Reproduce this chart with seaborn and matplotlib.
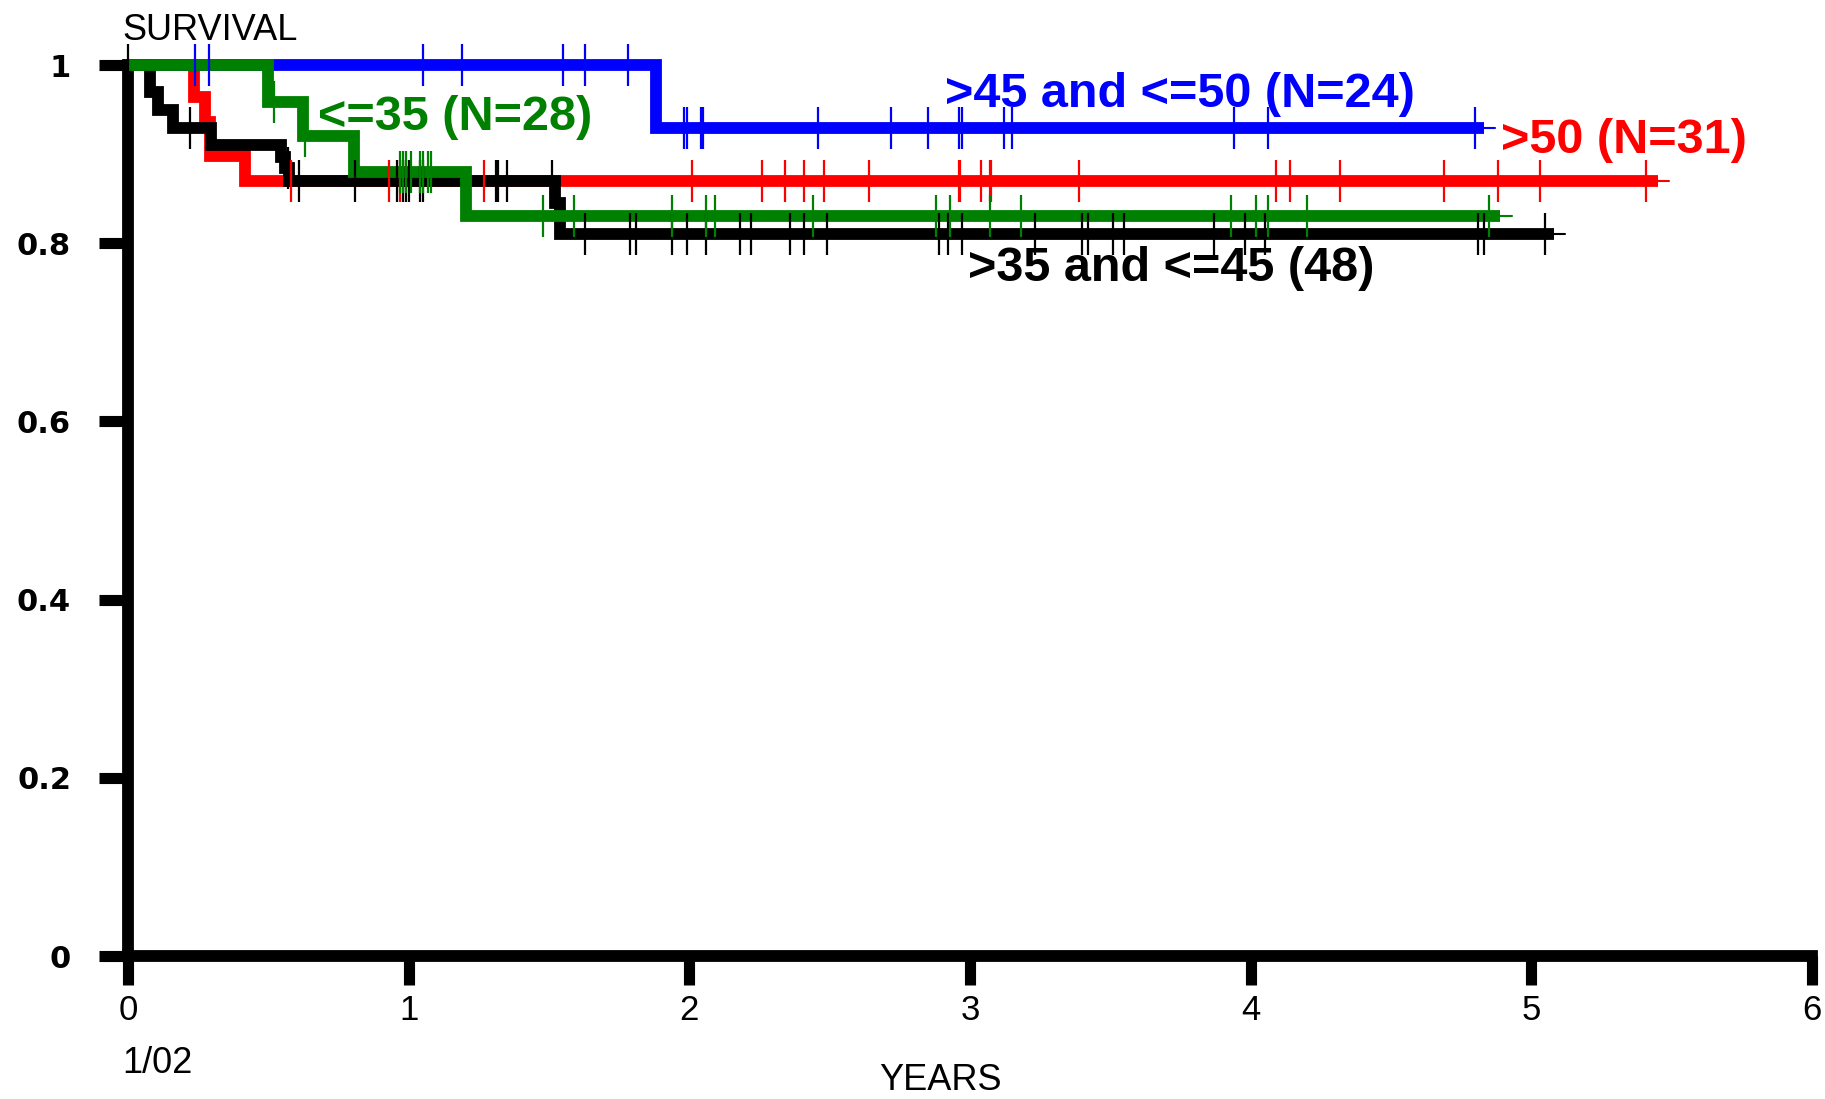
import numpy as np
import pandas as pd
import matplotlib
matplotlib.use("Agg")
import matplotlib.pyplot as plt
import seaborn as sns

# survival steps: drop times (years) and survival after each drop
green_t = [0.0, 0.500, 0.625, 0.805, 1.203]
green_s = [1.0, 0.959, 0.920, 0.880, 0.830]
green_end, green_tail = 4.89, 4.93
green_cens = [0.52, 0.63, 0.97, 0.98, 0.99, 1.01, 1.04, 1.05, 1.07, 1.08, 1.48, 1.59,
              1.94, 2.06, 2.09, 2.44, 2.88, 2.93, 3.07, 3.18, 3.93, 4.02, 4.06, 4.20, 4.85]

black_t = [0.0, 0.078, 0.108, 0.161, 0.296, 0.545, 0.560, 0.575, 1.521, 1.539]
black_s = [1.0, 0.970, 0.949, 0.929, 0.910, 0.897, 0.884, 0.870, 0.845, 0.810]
black_end, black_tail = 5.08, 5.12
black_cens = [0.0, 0.22, 0.57, 0.61, 0.81, 0.96, 0.98, 0.99, 1.00, 1.04, 1.05, 1.31, 1.32,
              1.35, 1.51, 1.63, 1.79, 1.81, 1.94, 1.99, 2.06, 2.18, 2.22, 2.36, 2.41, 2.49,
              2.89, 2.92, 2.97, 3.23, 3.40, 3.42, 3.51, 3.55, 3.87, 3.98, 4.05, 4.81, 4.83, 5.05]

blue_t = [0.0, 1.883]
blue_s = [1.0, 0.929]
blue_end, blue_tail = 4.83, 4.87
blue_cens = [0.24, 0.29, 1.05, 1.19, 1.55, 1.63, 1.78, 1.98, 1.99, 2.04, 2.05, 2.46, 2.72,
             2.85, 2.96, 2.97, 3.12, 3.15, 3.94, 4.06, 4.80]

red_t = [0.0, 0.234, 0.273, 0.292, 0.417]
red_s = [1.0, 0.964, 0.936, 0.898, 0.870]
red_end, red_tail = 5.45, 5.49
red_cens = [0.58, 0.93, 0.97, 1.27, 2.01, 2.26, 2.34, 2.41, 2.48, 2.64, 2.96, 2.965, 3.04,
            3.07, 3.075, 3.39, 4.09, 4.14, 4.32, 4.69, 4.88, 5.03, 5.41]

x_ticks = [0, 1, 2, 3, 4, 5, 6]
y_ticks = [0, 0.2, 0.4, 0.6, 0.8, 1.0]
y_ticklabels = ["0", "0.2", "0.4", "0.6", "0.8", "1"]

sns.set_style("white")
plt.rcParams["font.family"] = ["Liberation Sans", "DejaVu Sans"]
plt.rcParams["text.color"] = "black"

fig = plt.figure(figsize=(18.25, 10.99), dpi=100)
ax = fig.add_axes([128 / 1825, 143 / 1099, 1684 / 1825, 891 / 1099])

groups = [
    ("red", red_t, red_s, red_end, red_tail, red_cens, 2),
    ("blue", blue_t, blue_s, blue_end, blue_tail, blue_cens, 3),
    ("black", black_t, black_s, black_end, black_tail, black_cens, 4),
    ("green", green_t, green_s, green_end, green_tail, green_cens, 5),
]

for col, t, s, end, tail, cens, z in groups:
    df = pd.DataFrame({"years": list(t) + [end], "surv": list(s) + [s[-1]]})
    sns.lineplot(data=df, x="years", y="surv", color=col, lw=8.5, drawstyle="steps-post",
                 estimator=None, ax=ax, clip_on=False, zorder=z,
                 solid_joinstyle="miter", solid_capstyle="butt")
    # thin tail past the last follow-up
    sns.lineplot(x=[end, tail], y=[s[-1], s[-1]], color=col, lw=1.5, estimator=None,
                 ax=ax, clip_on=False, zorder=z)

# censoring marks
for col, t, s, end, tail, cens, z in groups:
    idx = np.searchsorted(t, cens, side="right") - 1
    lev = np.array(s)[idx]
    sns.scatterplot(x=cens, y=lev, marker="|", s=900, color=col, linewidth=1.6,
                    ax=ax, clip_on=False, zorder=6)

ax.set_xlim(0, 6)
ax.set_ylim(0, 1)
ax.set_xticks(x_ticks)
ax.set_xticklabels([str(v) for v in x_ticks], fontsize=25, color="black")
ax.set_yticks(y_ticks)
ax.set_yticklabels(y_ticklabels, fontsize=22, fontweight="bold", family="DejaVu Sans",
                   color="black")
ax.set_xlabel("")
ax.set_ylabel("")
ax.tick_params(axis="x", bottom=True, length=21, width=8, direction="out", pad=6,
               color="black")
ax.tick_params(axis="y", left=True, length=21, width=8, direction="out", pad=20,
               color="black")

for side in ["top", "right"]:
    ax.spines[side].set_visible(False)
for side in ["left", "bottom"]:
    ax.spines[side].set_linewidth(8.5)
    ax.spines[side].set_color("black")
ax.spines["left"].set_bounds(0, 1)
ax.spines["bottom"].set_bounds(0, 6)

lab_kw = dict(fontsize=35, fontweight="bold", ha="left", va="baseline")
ax.text(0.677, 0.927, "<=35 (N=28)", color="green", **lab_kw)
ax.text(2.911, 0.953, ">45 and <=50 (N=24)", color="blue", **lab_kw)
ax.text(4.891, 0.901, ">50 (N=31)", color="red", **lab_kw)
ax.text(2.993, 0.758, ">35 and <=45 (48)", color="black", **lab_kw)

ax.text(-0.021, 1.028, "SURVIVAL", fontsize=26, color="black", ha="left", va="baseline",
        clip_on=False)
ax.text(-0.021, -0.131, "1/02", fontsize=26, color="black", ha="left", va="baseline",
        clip_on=False)
ax.text(2.896, -0.150, "YEARS", fontsize=26, color="black", ha="center", va="baseline",
        clip_on=False)

fig.savefig("out.png", dpi=100)
